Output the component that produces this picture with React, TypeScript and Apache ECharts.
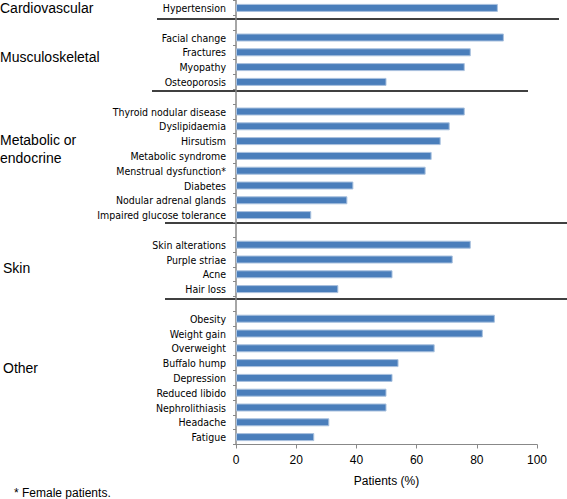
import React, { useEffect, useRef } from "react";
import * as echarts from "echarts";

const cardioCats = ["Hypertension"];
const cardioVals = [87];
const muscCats = ["Facial change", "Fractures", "Myopathy", "Osteoporosis"];
const muscVals = [89, 78, 76, 50];
const metaCats = [
  "Thyroid nodular disease",
  "Dyslipidaemia",
  "Hirsutism",
  "Metabolic syndrome",
  "Menstrual dysfunction*",
  "Diabetes",
  "Nodular adrenal glands",
  "Impaired glucose tolerance",
];
const metaVals = [76, 71, 68, 65, 63, 39, 37, 25];
const skinCats = ["Skin alterations", "Purple striae", "Acne", "Hair loss"];
const skinVals = [78, 72, 52, 34];
const otherCats = [
  "Obesity",
  "Weight gain",
  "Overweight",
  "Buffalo hump",
  "Depression",
  "Reduced libido",
  "Nephrolithiasis",
  "Headache",
  "Fatigue",
];
const otherVals = [86, 82, 66, 54, 52, 50, 50, 31, 26];
const xTicks = [0, 20, 40, 60, 80, 100];

const groups = [
  { cats: cardioCats, vals: cardioVals },
  { cats: muscCats, vals: muscVals },
  { cats: metaCats, vals: metaVals },
  { cats: skinCats, vals: skinVals },
  { cats: otherCats, vals: otherVals },
];

const categories: string[] = [];
const values: (number | null)[] = [];
groups.forEach((g, i) => {
  if (i > 0) {
    categories.push("_gap" + i);
    values.push(null);
  }
  g.cats.forEach((c, j) => {
    categories.push(c);
    values.push(g.vals[j]);
  });
});

const LABEL_FONT = "'DejaVu Sans Condensed', 'Liberation Sans', Arial, sans-serif";
const GROUP_FONT = "'Liberation Sans', Arial, sans-serif";

export default function App() {
  const ref = useRef<HTMLDivElement>(null);
  useEffect(() => {
    if (!ref.current) return;
    const chart = echarts.init(ref.current, null, { renderer: "svg" });
    const sepLine = (y: number, x1: number, x2: number) => ({
      type: "line",
      shape: { x1, y1: y, x2, y2: y },
      style: { stroke: "#000", lineWidth: 1.5 },
      silent: true,
    });
    const groupText = (text: string, x: number, y: number) => ({
      type: "text",
      x,
      y,
      style: {
        text,
        font: `14px ${GROUP_FONT}`,
        fill: "#000",
        textVerticalAlign: "middle",
      },
    });
    chart.setOption({
      animation: false,
      backgroundColor: "#fff",
      grid: { left: 236, right: 30, top: 0.5, bottom: 54.5, containLabel: false },
      xAxis: {
        type: "value",
        min: 0,
        max: 100,
        interval: 20,
        name: "Patients (%)",
        nameLocation: "middle",
        nameGap: 30,
        nameTextStyle: { fontFamily: GROUP_FONT, fontSize: 12, color: "#000" },
        axisLine: { show: true, lineStyle: { color: "#888", width: 1.2 } },
        axisTick: { show: true, length: 4, lineStyle: { color: "#888" } },
        axisLabel: { fontFamily: GROUP_FONT, fontSize: 12, color: "#000", margin: 9 },
        splitLine: { show: false },
      },
      yAxis: {
        type: "category",
        inverse: true,
        data: categories,
        axisLine: { show: true, lineStyle: { color: "#888", width: 1.5 } },
        axisTick: { show: true, length: 3, lineStyle: { color: "#888" } },
        axisLabel: {
          interval: 0,
          fontFamily: LABEL_FONT,
          fontSize: 10.5,
          color: "#000",
          margin: 10,
          formatter: (v: string) => (v.startsWith("_gap") ? "" : v),
        },
      },
      series: [
        {
          type: "bar",
          data: values,
          barWidth: 8,
          itemStyle: {
            color: "#4A7EBB",
            borderColor: "#A9C1DE",
            borderWidth: 1,
          },
        },
      ],
      graphic: [
        sepLine(19, 157, 559),
        sepLine(91, 152, 528),
        sepLine(223, 165, 567),
        sepLine(299, 165, 567),
        groupText("Cardiovascular", 0, 8),
        groupText("Musculoskeletal", 0, 57),
        groupText("Metabolic or", 0, 140),
        groupText("endocrine", 0, 158),
        groupText("Skin", 3, 268),
        groupText("Other", 3, 368),
        {
          type: "text",
          x: 14,
          y: 493,
          style: {
            text: "* Female patients.",
            font: `12px ${GROUP_FONT}`,
            fill: "#000",
            textVerticalAlign: "middle",
          },
        },
      ],
    });
    return () => chart.dispose();
  }, []);
  return <div ref={ref} style={{ width: 567, height: 499, position: "absolute", left: 0, top: 0 }} />;
}
